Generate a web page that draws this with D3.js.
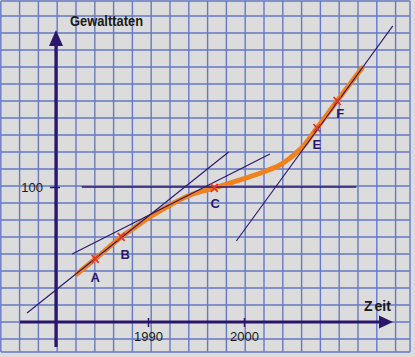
<!DOCTYPE html>
<html><head><meta charset="utf-8">
<script src="https://cdn.jsdelivr.net/npm/d3@7"></script>
<style>body{margin:0;background:#dcdcdc}svg{display:block}</style>
</head><body><svg id="c" width="415" height="357"></svg>
<script>
// ---- data ----
const curveYears  = [1982.6, 1984.5, 1987.2, 1988.4, 1990.2, 1992.3, 1994.4, 1996.9, 1999.6, 2002.0, 2003.75, 2004.8, 2006.1, 2007.6, 2009.7, 2012.3];
const curveValues = [35.6,   46.7,   63.0,   68.9,   77.8,   86.7,   94.1,   99.3,   105.2,  111.1,  116.3,   121.5,  129.6,  143.7,  163.7,  188.1];
const pointLabels = ["A", "B", "C", "E", "F"];
const pointYears  = [1984.5, 1987.2, 1996.9, 2007.6, 2009.7];
const pointValues = [46.7, 63.0, 99.3, 143.7, 163.7];
const tangentNames       = ["A", "B", "C", "E"];
const tangentStartYears  = [1977.4, 1982.1, 1983.1, 1999.2];
const tangentStartValues = [6.7, 50.4, 100, 60.0];
const tangentEndYears    = [1998.4, 2002.7, 2011.7, 2015.5];
const tangentEndValues   = [125.9, 124.4, 100, 219.3];
const xTickValues = [1990, 2000];
const yTickValues = [100];
const yTitle = "Gewalttaten";
const xTitle = "Zeit";

// ---- styles / layout ----
const W = 415, H = 357;
const navy = "#2a176c", gridC = "#6679c4", orange = "#f0821e", red = "#e0382a";
const labelOffsets = {A:[0,23], B:[4,22], C:[1,20], E:[0,21], F:[3,17]};

const svg = d3.select("#c");
svg.append("rect").attr("width", W).attr("height", H).attr("fill", "#dcdcdc");

const x = d3.scaleLinear().domain([1990, 2000]).range([148, 244]);
const y = d3.scaleLinear().domain([0, 100]).range([322, 187]);

// graph-paper grid
const g = svg.append("g").attr("stroke", gridC).attr("stroke-width", 1.4);
const vx = d3.range(22).map(k => 0.8 + 18.8 * k).concat([410]);
const hy = [1].concat(d3.range(20).map(k => 16 + 17 * k)).concat([352]);
g.selectAll("line.v").data(vx).join("line").attr("class","v")
  .attr("x1", d => d).attr("x2", d => d).attr("y1", 1).attr("y2", 352);
g.selectAll("line.h").data(hy).join("line").attr("class","h")
  .attr("x1", 1).attr("x2", 410).attr("y1", d => d).attr("y2", d => d);

// orange curve
const pts = curveYears.map((yr, i) => [yr, curveValues[i]]);
const line = d3.line().x(d => x(d[0])).y(d => y(d[1])).curve(d3.curveCatmullRom.alpha(0.5));
svg.append("path").datum(pts).attr("d", line)
  .attr("fill", "none").attr("stroke", orange).attr("stroke-width", 5).attr("stroke-linecap", "round");

// tangents
svg.selectAll("line.t").data(tangentNames).join("line").attr("class","t")
  .attr("x1", (d,i) => x(tangentStartYears[i])).attr("y1", (d,i) => y(tangentStartValues[i]))
  .attr("x2", (d,i) => x(tangentEndYears[i])).attr("y2", (d,i) => y(tangentEndValues[i]))
  .attr("stroke", navy).attr("stroke-width", (d) => d === "C" ? 1.5 : 1.1);

// crosses
const cg = svg.append("g").attr("stroke", red).attr("stroke-width", 1.8);
pointLabels.forEach((lab, i) => {
  const cx = x(pointYears[i]), cy = y(pointValues[i]);
  cg.append("line").attr("x1", cx-3.5).attr("y1", cy-4).attr("x2", cx+3.5).attr("y2", cy+4);
  cg.append("line").attr("x1", cx-3.5).attr("y1", cy+4).attr("x2", cx+3.5).attr("y2", cy-4);
  const o = labelOffsets[lab];
  svg.append("text").attr("x", cx + o[0]).attr("y", cy + o[1]).attr("text-anchor", "middle")
    .attr("font-family", "Liberation Sans, Arial, sans-serif").attr("font-weight", "bold")
    .attr("font-size", 13).attr("fill", navy).text(lab);
});

// axes lines with arrows
svg.append("line").attr("x1", 56).attr("x2", 56).attr("y1", 44).attr("y2", 347)
  .attr("stroke", navy).attr("stroke-width", 3.2);
svg.append("path").attr("d", "M56,30 L49,46 L63,46 Z").attr("fill", navy);
svg.append("line").attr("x1", 20).attr("x2", 381).attr("y1", 322).attr("y2", 322)
  .attr("stroke", navy).attr("stroke-width", 3.2);
svg.append("path").attr("d", "M393,322 L379,315.5 L379,328.5 Z").attr("fill", navy);

// tick axes
const xa = svg.append("g").attr("transform", "translate(0,318)")
  .call(d3.axisBottom(x).tickValues(xTickValues).tickFormat(d3.format("d")).tickSize(9).tickPadding(5));
const ya = svg.append("g").attr("transform", "translate(60,0)")
  .call(d3.axisLeft(y).tickValues(yTickValues).tickSize(10).tickPadding(7));
[xa, ya].forEach(a => {
  a.select(".domain").remove();
  a.selectAll("line").attr("stroke", navy).attr("stroke-width", 1.5);
  a.selectAll("text").attr("fill", "#1a1a1a").attr("font-size", 13)
    .attr("font-family", "Liberation Sans, Arial, sans-serif");
});

// titles
svg.append("text").attr("x", 70).attr("y", 26).attr("textLength", 73).attr("lengthAdjust", "spacingAndGlyphs")
  .attr("font-family", "Liberation Sans, Arial, sans-serif").attr("font-weight", "bold")
  .attr("font-size", 14).attr("fill", "#1a1a1a").text(yTitle);
const zt = svg.append("text").attr("x", 364).attr("y", 311)
  .attr("font-family", "Liberation Sans, Arial, sans-serif").attr("font-weight", "bold")
  .attr("font-size", 14).attr("fill", "#1a1a1a");
zt.append("tspan").text(xTitle.slice(0, 1));
zt.append("tspan").attr("dx", 2).text(xTitle.slice(1));
</script>
</body></html>
